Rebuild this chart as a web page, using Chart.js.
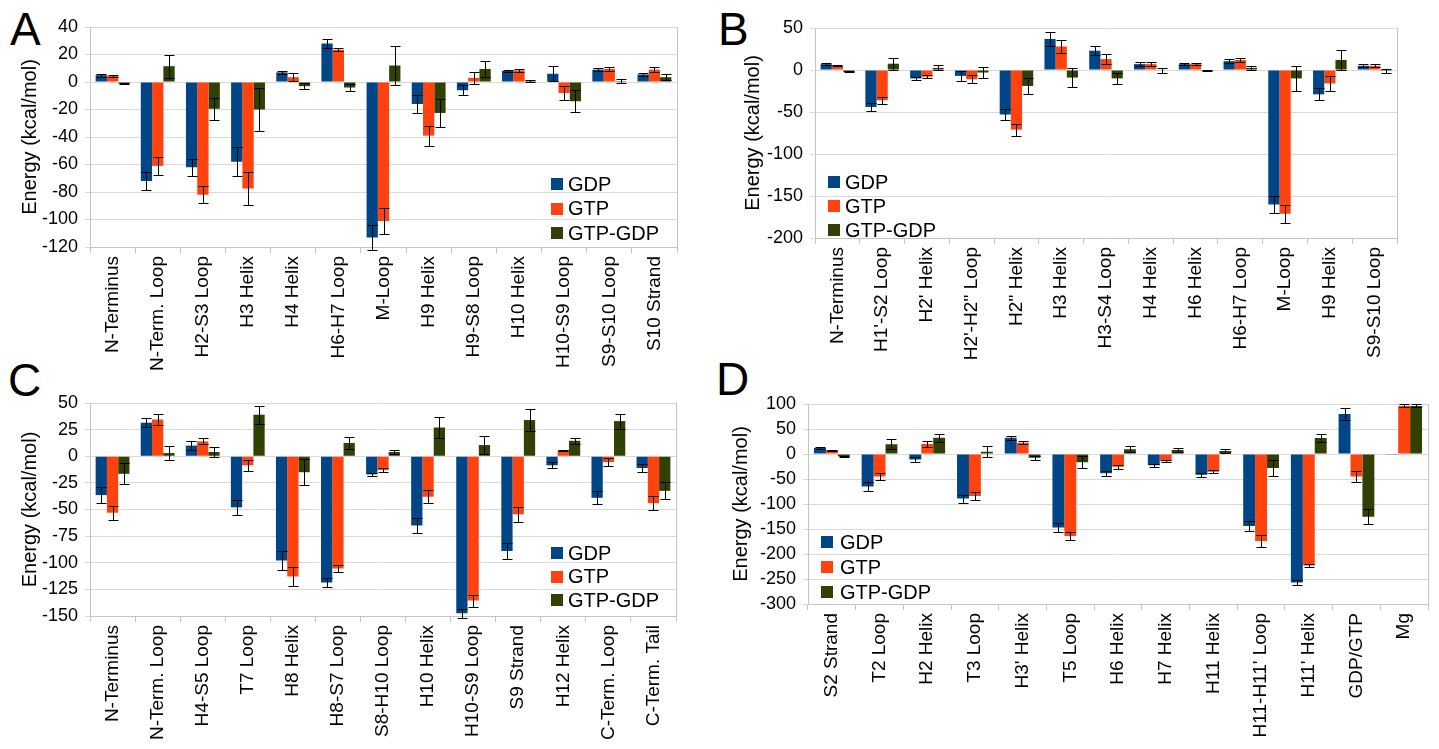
<!DOCTYPE html>
<html>
<head>
<meta charset="utf-8">
<script src="https://cdn.jsdelivr.net/npm/chart.js@4.4.1/dist/chart.umd.min.js"></script>
<style>
  html, body { margin: 0; padding: 0; background: #fff; }
  body { width: 1439px; height: 749px; position: relative; overflow: hidden; font-family: "Liberation Sans", Arial, sans-serif; }
  canvas { position: absolute; }
  .letter { position: absolute; font-size: 46px; line-height: 46px; color: #000; font-family: "Liberation Sans", Arial, sans-serif; }
</style>
</head>
<body>
<div class="letter" style="left:10px;top:6px;">A</div>
<div class="letter" style="left:718px;top:6px;">B</div>
<div class="letter" style="left:8px;top:357px;">C</div>
<div class="letter" style="left:716px;top:356px;">D</div>
<canvas id="cA" width="720" height="385" style="left:0;top:0;"></canvas>
<canvas id="cB" width="719" height="385" style="left:720px;top:0;"></canvas>
<canvas id="cC" width="720" height="379" style="left:0;top:370px;"></canvas>
<canvas id="cD" width="719" height="379" style="left:720px;top:370px;"></canvas>
<script>
// ---------- DATA ----------
const seriesNames = ['GDP', 'GTP', 'GTP-GDP'];
const yTitle = 'Energy (kcal/mol)';

// Panel A
const aCats = ['N-Terminus', 'N-Term. Loop', 'H2-S3 Loop', 'H3 Helix', 'H4 Helix', 'H6-H7 Loop', 'M-Loop', 'H9 Helix', 'H9-S8 Loop', 'H10 Helix', 'H10-S9 Loop', 'S9-S10 Loop', 'S10 Strand'];
const aGdp = [5, -72, -62, -58, 7, 28, -113, -16, -6, 8, 6, 9, 5.5];
const aGdpErr = [1, 6.5, 6, 10.5, 1.3, 3, 9, 6.7, 3.8, 1, 5.6, 1, 1.3];
const aGtp = [4.5, -61, -82, -77.5, 3.5, 23.5, -101, -39, 3, 8.5, -8, 9.5, 9];
const aGtpErr = [0.7, 6.3, 6.3, 12, 3, 1.2, 9.5, 7.3, 4.3, 1, 5.4, 1.3, 1.7];
const aDiff = [-1, 11.5, -19.5, -20, -3, -4, 12, -22.5, 9.5, 0.7, -14, 0.7, 3.5];
const aDiffErr = [0.5, 8.5, 8.2, 15.8, 2.3, 2.8, 14.3, 10, 5.5, 1, 8, 1.3, 2];

// Panel B
const bCats = ['N-Terminus', "H1'-S2 Loop", "H2' Helix", "H2'-H2'' Loop", "H2'' Helix", 'H3 Helix', 'H3-S4 Loop', 'H4 Helix', 'H6 Helix', 'H6-H7 Loop', 'M-Loop', 'H9 Helix', 'S9-S10 Loop'];
const bGdp = [7, -44, -10, -7, -53, 37, 23, 7, 7, 10.5, -160, -29, 5];
const bGdpErr = [1, 5.2, 2, 5.6, 6.6, 8.6, 5.4, 2.5, 0.8, 2.4, 10.4, 7, 2];
const bGtp = [5, -36, -8, -11, -71, 28, 13, 7, 7, 12, -171, -16, 5];
const bGtpErr = [0.8, 4.2, 1.6, 4.6, 7, 8, 5.6, 2.4, 0.8, 2, 10.6, 8.6, 1.6];
const bDiff = [-2, 7.5, 2.5, -3, -19, -9, -10, -0.5, -0.3, 2.5, -10, 12, -1];
const bDiffErr = [0.6, 7, 3, 6.4, 10, 11.6, 7, 3, 0.5, 2.6, 15, 11.6, 2];

// Panel C
const cCats = ['N-Terminus', 'N-Term. Loop', 'H4-S5 Loop', 'T7 Loop', 'H8 Helix', 'H8-S7 Loop', 'S8-H10 Loop', 'H10 Helix', 'H10-S9 Loop', 'S9 Strand', 'H12 Helix', 'C-Term. Loop', 'C-Term. Tail'];
const cGdp = [-36.5, 31.5, 10, -48, -98, -118.5, -17, -65, -147.5, -89, -8.5, -39, -11];
const cGdpErr = [7.8, 4, 4, 7, 8.6, 4, 1.6, 7, 4, 7.3, 2.8, 6, 4];
const cGtp = [-53, 34.5, 14, -8.5, -113, -105.5, -13, -38, -135.5, -54.5, 5.5, -5.5, -44];
const cGtpErr = [6.7, 5, 2.8, 5.2, 9, 3.6, 2, 6, 5.6, 7, 0.8, 3.6, 6.7];
const cDiff = [-16.5, 3, 4, 39, -15, 12.5, 4, 27, 10.5, 34, 14.5, 33, -32.5];
const cDiffErr = [10, 6.2, 4.7, 8.6, 12.3, 5.5, 2.2, 9.4, 8.4, 10.3, 3.1, 7, 8];

// Panel D
const dCats = ['S2 Strand', 'T2 Loop', 'H2 Helix', 'T3 Loop', "H3' Helix", 'T5 Loop', 'H6 Helix', 'H7 Helix', 'H11 Helix', "H11-H11' Loop", "H11' Helix", 'GDP/GTP', 'Mg'];
const dGdp = [12, -65, -11, -89, 32.5, -147, -38.5, -22.5, -41.5, -144, -257, 80, -0.5];
const dGdpErr = [1.5, 8, 5, 8, 4.5, 9, 5.5, 3.3, 3.7, 10.3, 4.3, 11.3, 0];
const dGtp = [8, -45, 20, -84, 22.5, -164, -25.5, -14.5, -35.5, -174, -223, -45, 96];
const dGtpErr = [1, 6.7, 5.7, 8, 2.7, 8, 4, 2.3, 3.3, 11.3, 3.3, 10.7, 3];
const dDiff = [-4.5, 19.5, 32.5, 4.5, -7.5, -16.5, 9.5, 8, 6, -28, 32, -125.5, 96];
const dDiffErr = [1.3, 10, 7.7, 11.3, 4.3, 12, 6.3, 3.3, 4.7, 16.7, 7.3, 15, 3];

// Axis ranges
const aRange = { min: -120, max: 40, step: 20 };
const bRange = { min: -200, max: 50, step: 50 };
const cRange = { min: -150, max: 50, step: 25 };
const dRange = { min: -300, max: 100, step: 50 };

// ---------- STYLE ----------
const FONT = '"Liberation Sans", Arial, sans-serif';
const COLORS = ['#004586', '#ff420e', '#314004'];
const GRID = '#d9d9d9';
const AXIS = '#c4c4c4';
Chart.defaults.font.family = FONT;
Chart.defaults.color = '#000';

const errorBars = {
  id: 'errorBars',
  afterDatasetsDraw(chart) {
    const ctx = chart.ctx;
    const ys = chart.scales.y;
    ctx.save();
    ctx.strokeStyle = '#000';
    ctx.lineWidth = 1;
    chart.data.datasets.forEach((ds, i) => {
      const meta = chart.getDatasetMeta(i);
      meta.data.forEach((bar, j) => {
        const v = ds.data[j], e = ds.errors[j];
        if (!e) return;
        const x = Math.round(bar.x) + 0.5;
        const y1 = Math.round(ys.getPixelForValue(v + e)) + 0.5;
        const y2 = Math.round(ys.getPixelForValue(v - e)) + 0.5;
        ctx.beginPath();
        ctx.moveTo(x, y1); ctx.lineTo(x, y2);
        ctx.moveTo(x - 5, y1); ctx.lineTo(x + 5, y1);
        ctx.moveTo(x - 5, y2); ctx.lineTo(x + 5, y2);
        ctx.stroke();
      });
    });
    ctx.restore();
  }
};

const frame = {
  id: 'frame',
  beforeDatasetsDraw(chart) {
    const { ctx, chartArea: a } = chart;
    ctx.save();
    ctx.strokeStyle = AXIS;
    ctx.lineWidth = 1;
    ctx.beginPath();
    ctx.moveTo(Math.round(a.right) + 0.5, a.top);
    ctx.lineTo(Math.round(a.right) + 0.5, a.bottom);
    ctx.stroke();
    ctx.restore();
  }
};

const boxLegend = {
  id: 'boxLegend',
  afterDraw(chart, args, opts) {
    const ctx = chart.ctx;
    ctx.save();
    chart.data.datasets.forEach((ds, i) => {
      const cy = opts.y + i * opts.gap;
      ctx.fillStyle = ds.backgroundColor;
      ctx.fillRect(opts.x, Math.round(cy - 6), 12, 12);
      ctx.fillStyle = '#000';
      ctx.font = '20px ' + FONT;
      ctx.textBaseline = 'middle';
      ctx.textAlign = 'left';
      ctx.fillText(ds.label, opts.x + opts.tx, cy + 1);
    });
    ctx.restore();
  }
};

function makePanel(id, cats, vals, errs, range, lay) {
  const datasets = seriesNames.map((name, i) => ({
    label: name,
    data: vals[i],
    errors: errs[i],
    backgroundColor: COLORS[i],
    borderWidth: 0,
    categoryPercentage: 0.75,
    barPercentage: 1.0
  }));
  new Chart(document.getElementById(id), {
    type: 'bar',
    data: { labels: cats, datasets },
    plugins: [frame, errorBars, boxLegend],
    options: {
      responsive: false,
      animation: false,
      devicePixelRatio: 1,
      layout: { padding: { top: lay.top, right: lay.right, bottom: 0, left: 0 } },
      plugins: {
        legend: { display: false },
        tooltip: { enabled: false },
        boxLegend: lay.legend
      },
      scales: {
        x: {
          grid: { offset: true, drawOnChartArea: false, drawTicks: true, tickLength: 6, color: AXIS },
          border: { display: true, color: AXIS },
          ticks: { autoSkip: false, minRotation: 90, maxRotation: 90, padding: 3, color: '#000', font: { size: 19 } },
          afterFit(s) { s.height = lay.xH; }
        },
        y: {
          min: range.min, max: range.max,
          ticks: { stepSize: range.step, padding: 7, color: '#000', font: { size: 18 } },
          grid: { color: GRID, tickLength: 5 },
          border: { color: AXIS },
          title: { display: true, text: yTitle, color: '#000', font: { size: 20 }, padding: { top: lay.tp, bottom: 0 } },
          afterFit(s) { s.width = lay.yW; }
        }
      }
    }
  });
}

makePanel('cA', aCats, [aGdp, aGtp, aDiff], [aGdpErr, aGtpErr, aDiffErr], aRange,
  { top: 27, right: 43, xH: 138, yW: 90, tp: 18, legend: { x: 551, y: 184, gap: 24.5, tx: 17 } });
makePanel('cB', bCats, [bGdp, bGtp, bDiff], [bGdpErr, bGtpErr, bDiffErr], bRange,
  { top: 28, right: 42, xH: 147, yW: 95, tp: 21, legend: { x: 108, y: 182, gap: 24, tx: 17 } });
makePanel('cC', cCats, [cGdp, cGtp, cDiff], [cGdpErr, cGtpErr, cDiffErr], cRange,
  { top: 33, right: 44, xH: 133, yW: 90, tp: 18, legend: { x: 551, y: 183, gap: 23.5, tx: 17 } });
makePanel('cD', dCats, [dGdp, dGtp, dDiff], [dGdpErr, dGtpErr, dDiffErr], dRange,
  { top: 34, right: 11, xH: 145, yW: 88, tp: 9, legend: { x: 101, y: 172, gap: 25, tx: 19 } });
</script>
</body>
</html>
